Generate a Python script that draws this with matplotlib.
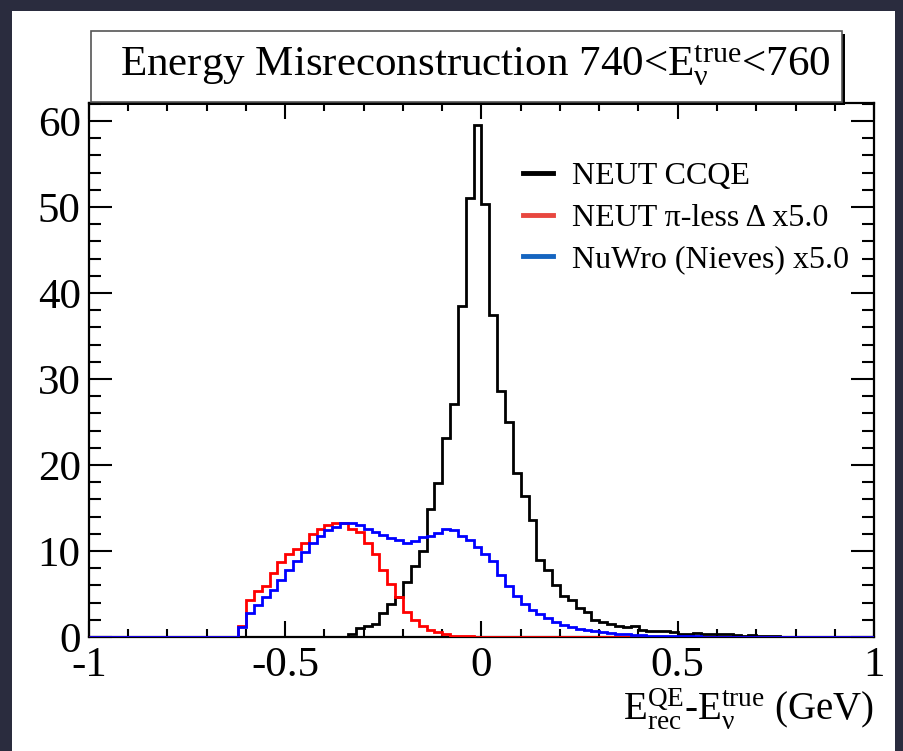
import matplotlib
matplotlib.use('Agg')
import matplotlib.pyplot as plt
from matplotlib.patches import Rectangle
from matplotlib.lines import Line2D
from matplotlib.ticker import MultipleLocator, FuncFormatter
import numpy as np

plt.rcParams['font.family'] = ['Liberation Serif', 'DejaVu Serif']
plt.rcParams['mathtext.fontset'] = 'custom'
plt.rcParams['mathtext.rm'] = 'Liberation Serif'
plt.rcParams['mathtext.it'] = 'Liberation Serif:italic'

# 100 bins of 0.02 GeV between -1 and 1
edges = np.linspace(-1.0, 1.0, 101)

# NEUT CCQE, bins from -0.34 upwards
ccqe_start = 33
ccqe = [0.3, 1.0, 1.3, 1.5, 2.8, 3.8, 4.7, 6.4, 8.3, 10.0,
        14.9, 17.9, 23.1, 27.1, 38.5, 51.1, 59.5, 50.4, 37.4, 28.6,
        25.0, 19.1, 16.4, 13.6, 9.0, 7.8, 6.0, 4.8, 4.3, 3.4,
        2.85, 2.0, 1.75, 1.55, 1.3, 1.2, 1.25, 0.85, 0.75, 0.75,
        0.7, 0.6, 0.4, 0.35, 0.45, 0.4, 0.4, 0.4, 0.35, 0.25,
        0.15, 0.2, 0.1, 0.15, 0.1, 0.05, 0.05, 0.03, 0.02, 0.05,
        0.02, 0.0, 0.02, 0.0, 0.0, 0.0, 0.0]

# NEUT pi-less Delta x5, bins from -0.62 upwards
delta_start = 19
delta = [1.3, 4.3, 5.4, 5.9, 7.5, 8.7, 9.7, 10.2, 10.9, 12.0,
         12.6, 13.0, 13.2, 13.2, 12.6, 12.2, 10.9, 9.7, 7.8, 6.2,
         4.7, 2.9, 2.0, 1.3, 0.8, 0.55, 0.3, 0.15, 0.1, 0.06,
         0.04, 0.02]

# NuWro (Nieves) x5, bins from -0.62 upwards
nuwro_start = 19
nuwro = [1.2, 2.75, 3.7, 4.7, 5.5, 6.6, 7.8, 8.8, 9.9, 10.9,
         11.7, 12.4, 12.8, 13.2, 13.2, 13.0, 12.6, 12.2, 11.9, 11.5,
         11.3, 10.9, 11.2, 11.6, 11.8, 12.1, 12.6, 12.4, 11.8, 11.3,
         10.5, 9.7, 8.8, 7.2, 5.9, 4.8, 3.8, 3.1, 2.7, 2.2,
         1.8, 1.4, 1.15, 0.95, 0.8, 0.7, 0.55, 0.45, 0.38, 0.3,
         0.25, 0.2, 0.17, 0.14, 0.12, 0.1, 0.08, 0.07, 0.06, 0.05,
         0.05, 0.04, 0.04, 0.03, 0.03, 0.03, 0.02, 0.02, 0.02, 0.02,
         0.02, 0.02, 0.02, 0.02, 0.02, 0.02, 0.02, 0.02, 0.02, 0.02,
         0.02]

labels = ['NEUT CCQE', 'NEUT π-less Δ x5.0', 'NuWro (Nieves) x5.0']


def full(vals, start):
    h = np.zeros(len(edges) - 1)
    h[start:start + len(vals)] = vals
    return h


W, H = 904, 751
fig = plt.figure(figsize=(W / 100, H / 100), dpi=100)
fig.patch.set_facecolor('#2a2c3e')
fig.add_artist(Rectangle((12 / W, 0), 883 / W, 740 / H, transform=fig.transFigure,
                         facecolor='white', edgecolor='none', zorder=0))

ax = fig.add_axes([89 / W, 1 - 637 / H, 785 / W, 534 / H])
ax.set_facecolor('white')

ax.stairs(full(ccqe, ccqe_start), edges, color='black', lw=2.0, zorder=3)
ax.stairs(full(delta, delta_start), edges, color='#ff0000', lw=2.0, zorder=4)
ax.stairs(full(nuwro, nuwro_start), edges, color='#0000ff', lw=2.0, zorder=5)

ax.set_xlim(-1, 1)
ax.set_ylim(0, 62.1)

ax.xaxis.set_major_locator(MultipleLocator(0.5))
ax.xaxis.set_minor_locator(MultipleLocator(0.1))
ax.yaxis.set_major_locator(MultipleLocator(10))
ax.yaxis.set_minor_locator(MultipleLocator(2))
ax.xaxis.set_major_formatter(FuncFormatter(lambda v, p: ('%g' % v).replace('−', '-')))
ax.yaxis.set_major_formatter(FuncFormatter(lambda v, p: '%d' % v))

ax.tick_params(axis='both', which='both', direction='in', top=True, right=True,
               labelsize=31, width=1.5)
ax.tick_params(axis='x', which='major', length=11.5, pad=7)
ax.tick_params(axis='x', which='minor', length=5.8)
ax.tick_params(axis='y', which='major', length=16.5, pad=6)
ax.tick_params(axis='y', which='minor', length=8.5)
for s in ax.spines.values():
    s.set_linewidth(1.6)

handles = [Line2D([], [], color='black', lw=3.5),
           Line2D([], [], color='#e8473f', lw=3.5),
           Line2D([], [], color='#1565c0', lw=3.5)]
ax.legend(handles, labels, loc='upper left', bbox_to_anchor=(507 / W, 1 - 146 / H),
          bbox_transform=fig.transFigure, frameon=False, fontsize=23,
          handlelength=0.95, handletextpad=0.6, labelspacing=0.38, borderpad=0)

# title pave with shadow
fig.add_artist(Rectangle((94 / W, 1 - 105 / H), 751 / W, 71 / H, transform=fig.transFigure,
                         facecolor='black', edgecolor='none', zorder=6))
fig.add_artist(Rectangle((91 / W, 1 - 102 / H), 751 / W, 71 / H, transform=fig.transFigure,
                         facecolor='white', edgecolor='#555555', lw=1.2, zorder=7))
fig.text(475 / W, 1 - 66 / H,
         r'Energy Misreconstruction 740<E$_{\mathrm{ν}}^{\mathrm{true}}$<760',
         ha='center', va='center', fontsize=31, zorder=8)

fig.text(874 / W, 1 - 720 / H,
         r'E$_{\mathrm{rec}}^{\mathrm{QE}}$-E$_{\mathrm{ν}}^{\mathrm{true}}$ (GeV)',
         ha='right', va='baseline', fontsize=28)

fig.savefig('out.png', dpi=100, facecolor=fig.get_facecolor())
